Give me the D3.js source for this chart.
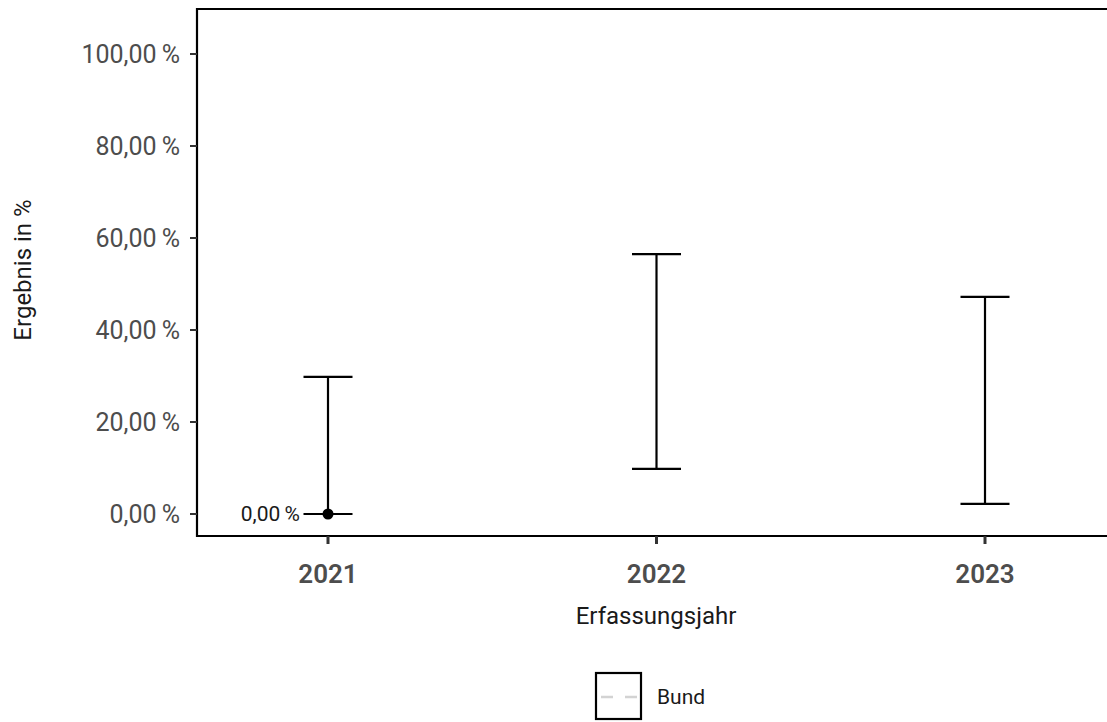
<!DOCTYPE html>
<html><head><meta charset="utf-8">
<script src="https://cdn.jsdelivr.net/npm/d3@7"></script>
<style>body{margin:0;background:#fff;}svg{display:block;font-family:Roboto, "Noto Sans", sans-serif;}</style>
</head><body>
<script>
const years = ["2021","2022","2023"];
const values = [0, null, null];
const lower = [0, 9.8, 2.2];
const upper = [29.8, 56.5, 47.2];
const yTicks = [0,20,40,60,80,100];

const W=1107,H=722;
const svg=d3.select("body").append("svg").attr("width",W).attr("height",H);
const plotLeft=197, plotTop=9, plotBottom=536;
const y=d3.scaleLinear().domain([0,100]).range([514,54]);
const step=328.5;
const x=d3.scalePoint().domain(years).range([plotLeft+131,plotLeft+131+2*step]);
const fmt=v=>d3.format(".2f")(v).replace(".",",")+"\u2009%";

// frame
svg.append("line").attr("x1",plotLeft).attr("x2",W).attr("y1",plotTop).attr("y2",plotTop).attr("stroke","#000").attr("stroke-width",2.2);
svg.append("line").attr("x1",plotLeft).attr("x2",W).attr("y1",plotBottom).attr("y2",plotBottom).attr("stroke","#000").attr("stroke-width",2.2);
svg.append("line").attr("x1",plotLeft).attr("x2",plotLeft).attr("y1",plotTop-1).attr("y2",plotBottom+1).attr("stroke","#000").attr("stroke-width",2.2);

// y axis ticks
const yg=svg.append("g");
yTicks.forEach(t=>{
  yg.append("line").attr("x1",plotLeft-7).attr("x2",plotLeft).attr("y1",y(t)).attr("y2",y(t)).attr("stroke","#333").attr("stroke-width",2);
  yg.append("text").attr("x",plotLeft-17).attr("y",y(t)).attr("dy","0.35em").attr("text-anchor","end")
    .attr("font-size",25).attr("fill","#4d4d4d").text(fmt(t));
});
// x axis ticks
years.forEach(yr=>{
  svg.append("line").attr("x1",x(yr)).attr("x2",x(yr)).attr("y1",plotBottom).attr("y2",plotBottom+8).attr("stroke","#333").attr("stroke-width",3);
  svg.append("text").attr("x",x(yr)).attr("y",574).attr("dy","0.35em").attr("text-anchor","middle")
    .attr("font-size",26).attr("font-weight",600).attr("fill","#4d4d4d").text(yr);
});

// error bars
const cap=24.5;
years.forEach((yr,i)=>{
  const cx=x(yr);
  const g=svg.append("g").attr("stroke","#000").attr("stroke-width",2.2);
  g.append("line").attr("x1",cx).attr("x2",cx).attr("y1",y(lower[i])).attr("y2",y(upper[i]));
  g.append("line").attr("x1",cx-cap).attr("x2",cx+cap).attr("y1",y(lower[i])).attr("y2",y(lower[i]));
  g.append("line").attr("x1",cx-cap).attr("x2",cx+cap).attr("y1",y(upper[i])).attr("y2",y(upper[i]));
  if(values[i]!==null){
    svg.append("circle").attr("cx",cx).attr("cy",y(values[i])).attr("r",5.5).attr("fill","#000");
    svg.append("text").attr("x",cx-28).attr("y",y(values[i])).attr("dy","0.35em").attr("text-anchor","end")
      .attr("font-size",21).attr("fill","#1a1a1a").text(fmt(values[i]));
  }
});

// axis titles
svg.append("text").attr("x",656).attr("y",616).attr("dy","0.35em").attr("text-anchor","middle")
  .attr("font-size",24).attr("fill","#1a1a1a").text("Erfassungsjahr");
svg.append("text").attr("transform","translate(23,270) rotate(-90)").attr("dy","0.35em").attr("text-anchor","middle")
  .attr("font-size",24).attr("fill","#1a1a1a").text("Ergebnis in %");

// legend
svg.append("rect").attr("x",596).attr("y",673).attr("width",45).attr("height",46).attr("fill","#fff").attr("stroke","#000").attr("stroke-width",2.2);
svg.append("line").attr("x1",601).attr("x2",637).attr("y1",697).attr("y2",697).attr("stroke","#d3d3d3").attr("stroke-width",2.5).attr("stroke-dasharray","12,12");
svg.append("text").attr("x",657).attr("y",697).attr("dy","0.35em").attr("font-size",21).attr("fill","#1a1a1a").text("Bund");
</script>
</body></html>
